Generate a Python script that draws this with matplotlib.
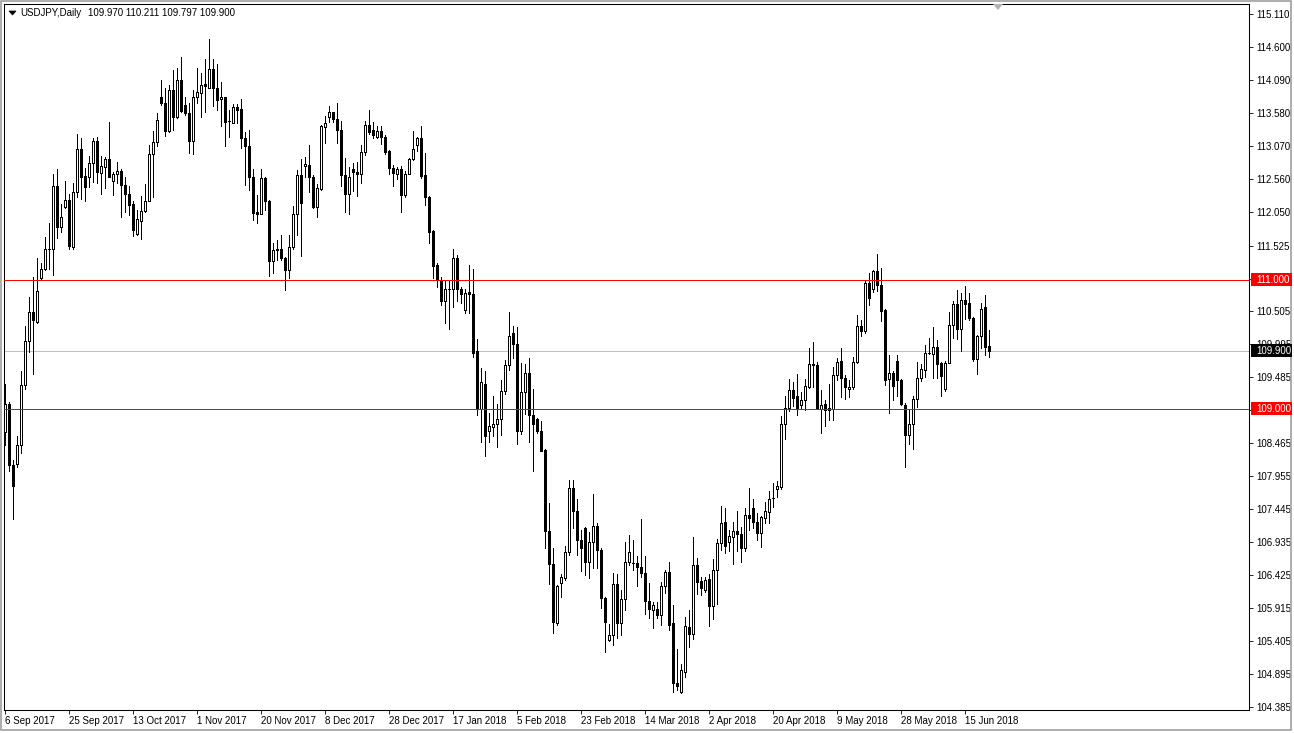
import matplotlib
matplotlib.use("Agg")
import matplotlib.pyplot as plt
from matplotlib.patches import Rectangle, Polygon

plt.rcParams['font.family'] = ['Liberation Sans', 'DejaVu Sans']

symbol = "USDJPY,Daily"
last_quote = "109.970 110.211 109.797 109.900"

# daily bars (oldest first)
opens = [
    108.64, 109.07, 108.13, 108.15, 108.44, 109.37, 110.05, 110.49, 110.35, 111.03,
    111.16, 111.48, 111.47, 112.45, 111.81, 112.13, 112.23, 111.51, 112.35, 113.02,
    112.60, 112.59, 112.80, 113.14, 112.65, 112.74, 112.87, 112.53, 112.64, 112.68,
    112.46, 112.32, 112.17, 111.71, 111.91, 112.06, 112.22, 112.94, 113.13, 113.82,
    113.74, 113.30, 113.93, 113.51, 114.09, 113.70, 113.57, 113.15, 113.82, 113.88,
    114.03, 113.97, 114.26, 113.97, 113.79, 113.82, 113.46, 113.43, 113.67, 113.64,
    113.19, 113.06, 112.59, 112.04, 112.02, 112.57, 112.22, 111.28, 111.47, 111.47,
    111.34, 111.14, 111.50, 112.01, 112.62, 112.75, 112.78, 112.58, 112.13, 112.40,
    113.36, 113.51, 113.59, 113.48, 113.32, 112.62, 112.33, 112.71, 112.66, 112.63,
    112.97, 113.39, 113.31, 113.21, 113.30, 113.20, 112.99, 112.73, 112.63, 112.71,
    112.31, 112.64, 112.87, 113.09, 113.19, 112.62, 112.28, 111.75, 111.22, 111.00,
    110.67, 110.85, 110.85, 111.34, 110.85, 110.53, 110.80, 110.78, 109.89, 108.99,
    109.39, 108.66, 108.72, 108.76, 108.84, 109.28, 109.68, 110.17, 110.00, 108.65,
    109.26, 109.56, 108.91, 108.84, 108.66, 108.36, 107.11, 106.60, 105.69, 106.30,
    106.38, 106.78, 107.78, 107.42, 106.97, 107.16, 106.62, 106.93, 107.19, 106.81,
    106.07, 105.42, 105.49, 106.28, 105.69, 106.05, 106.62, 106.62, 106.61, 106.55,
    106.46, 106.02, 105.88, 105.90, 105.81, 106.25, 106.47, 105.68, 104.75, 104.62,
    104.93, 105.62, 105.52, 106.58, 106.33, 106.20, 106.36, 105.94, 106.50, 106.92,
    107.24, 106.93, 107.02, 107.10, 107.06, 106.85, 107.35, 107.47, 107.24, 107.07,
    107.31, 107.40, 107.61, 107.75, 107.79, 108.76, 109.01, 109.29, 109.19, 109.05,
    109.13, 109.34, 109.69, 109.68, 109.00, 109.07, 108.98, 108.99, 109.52, 109.74,
    109.47, 109.31, 109.33, 109.73, 110.28, 110.21, 110.95, 110.85, 111.13, 110.92,
    110.53, 109.46, 109.56, 109.74, 109.45, 109.06, 108.60, 108.76, 109.15, 109.48,
    109.60, 109.86, 109.84, 109.95, 109.71, 109.30, 109.71, 110.30, 110.62, 110.23,
    110.69, 110.64, 110.40, 109.77, 110.12, 110.57, 109.970]

highs = [
    109.39, 109.11, 108.21, 108.57, 109.59, 110.28, 110.73, 111.04, 111.33, 111.26,
    111.66, 111.88, 112.64, 112.71, 112.17, 112.53, 112.33, 112.49, 113.25, 113.19,
    112.72, 112.91, 113.19, 113.20, 112.91, 112.89, 113.44, 112.67, 112.82, 112.71,
    112.59, 112.45, 112.22, 112.08, 112.29, 112.48, 113.08, 113.30, 113.57, 114.09,
    113.96, 114.01, 114.24, 114.27, 114.45, 113.83, 113.73, 113.93, 114.28, 114.20,
    114.42, 114.72, 114.42, 114.34, 114.05, 113.83, 113.62, 113.72, 113.72, 113.80,
    113.28, 113.32, 112.71, 112.31, 112.71, 112.59, 112.23, 111.56, 111.61, 111.69,
    111.35, 111.69, 112.14, 112.70, 112.86, 112.90, 113.08, 112.62, 112.48, 113.39,
    113.53, 113.69, 113.60, 113.74, 113.45, 112.88, 112.74, 112.81, 112.82, 113.08,
    113.45, 113.62, 113.44, 113.37, 113.37, 113.24, 113.00, 112.77, 112.74, 112.75,
    112.68, 112.88, 113.30, 113.21, 113.38, 112.96, 112.29, 111.76, 111.25, 111.04,
    111.00, 111.00, 111.47, 111.38, 110.89, 110.86, 111.22, 111.17, 110.08, 109.63,
    109.58, 108.93, 109.20, 109.08, 109.45, 109.75, 110.49, 110.28, 110.26, 109.70,
    109.69, 109.79, 109.31, 108.86, 108.81, 108.37, 107.54, 106.85, 106.27, 106.44,
    106.87, 107.90, 107.90, 107.60, 107.13, 107.17, 107.09, 107.68, 107.23, 106.84,
    106.08, 105.66, 106.45, 106.44, 106.19, 106.93, 107.05, 106.97, 106.72, 107.29,
    106.72, 106.30, 106.01, 106.01, 106.32, 106.50, 106.63, 105.96, 105.28, 105.05,
    105.78, 105.89, 107.01, 106.69, 106.39, 106.39, 106.44, 106.67, 106.98, 107.49,
    107.47, 107.13, 107.25, 107.41, 107.17, 107.47, 107.77, 107.60, 107.39, 107.34,
    107.55, 107.73, 107.85, 107.88, 108.88, 109.20, 109.46, 109.42, 109.54, 109.26,
    109.46, 109.94, 110.04, 109.73, 109.29, 109.14, 109.39, 109.64, 109.78, 109.94,
    109.52, 109.45, 109.80, 110.45, 110.38, 111.00, 111.10, 111.15, 111.40, 111.18,
    110.55, 109.83, 109.59, 109.83, 109.46, 109.09, 108.98, 109.19, 109.72, 109.69,
    109.99, 110.09, 110.26, 110.07, 109.73, 109.74, 110.50, 110.67, 110.84, 110.79,
    110.90, 110.79, 110.42, 110.14, 110.64, 110.76, 110.211]

lows = [
    108.44, 108.03, 107.30, 108.09, 108.32, 109.30, 109.88, 109.53, 110.33, 110.99,
    111.14, 111.17, 111.07, 111.65, 111.73, 112.10, 111.47, 111.48, 112.28, 112.25,
    112.21, 112.43, 112.51, 112.50, 112.32, 112.41, 112.58, 112.31, 112.49, 111.97,
    112.05, 112.00, 111.68, 111.69, 111.63, 112.05, 112.21, 112.28, 113.06, 113.70,
    113.22, 113.29, 113.32, 113.50, 113.60, 113.54, 112.96, 112.95, 113.73, 113.52,
    113.60, 113.96, 113.68, 113.62, 113.38, 113.07, 113.21, 113.42, 113.42, 113.03,
    112.46, 112.39, 111.92, 111.87, 112.01, 112.08, 111.05, 111.10, 111.30, 111.30,
    110.83, 111.02, 111.48, 111.69, 111.37, 112.59, 112.36, 112.10, 111.97, 112.38,
    113.12, 113.44, 113.44, 113.12, 112.44, 112.05, 112.02, 112.37, 112.30, 112.50,
    112.93, 113.25, 113.19, 113.19, 113.10, 112.94, 112.64, 112.45, 112.55, 112.05,
    112.28, 112.63, 112.85, 112.99, 112.57, 112.15, 111.56, 111.03, 110.89, 110.61,
    110.32, 110.23, 110.58, 110.66, 110.63, 110.48, 110.48, 109.80, 108.90, 108.49,
    108.27, 108.49, 108.57, 108.40, 108.59, 109.23, 109.60, 109.78, 108.45, 108.61,
    108.92, 108.49, 108.03, 108.62, 108.34, 106.84, 106.28, 105.53, 105.65, 106.08,
    106.35, 106.74, 107.15, 106.74, 106.49, 106.43, 106.38, 106.53, 106.53, 105.91,
    105.24, 105.41, 105.34, 105.45, 105.50, 105.88, 106.58, 106.50, 106.25, 106.40,
    105.82, 105.76, 105.60, 105.76, 105.65, 106.14, 105.58, 104.62, 104.65, 104.60,
    104.84, 105.31, 105.43, 106.13, 106.11, 106.17, 105.64, 105.74, 105.98, 106.81,
    106.76, 106.79, 106.60, 106.79, 106.63, 106.80, 107.13, 107.16, 106.96, 106.86,
    107.23, 107.23, 107.48, 107.64, 107.75, 108.53, 108.96, 109.04, 108.90, 109.01,
    108.98, 109.32, 109.34, 108.99, 108.63, 108.73, 108.83, 108.82, 109.45, 109.18,
    109.15, 109.18, 109.31, 109.71, 110.12, 110.17, 110.61, 110.81, 110.82, 110.36,
    109.37, 108.94, 109.14, 109.20, 109.06, 108.10, 108.46, 108.37, 109.02, 109.43,
    109.49, 109.84, 109.48, 109.47, 109.19, 109.28, 109.71, 110.09, 110.08, 109.90,
    110.39, 110.38, 109.74, 109.54, 109.94, 109.83, 109.797]

closes = [
    109.07, 108.13, 107.81, 108.44, 109.37, 110.05, 110.49, 110.37, 110.82, 111.16,
    111.48, 111.47, 112.45, 111.81, 111.96, 112.23, 111.52, 112.35, 113.02, 112.59,
    112.43, 112.80, 113.14, 112.67, 112.76, 112.87, 112.59, 112.64, 112.68, 112.46,
    112.33, 112.16, 111.76, 111.93, 112.06, 112.22, 112.94, 113.13, 113.47, 113.74,
    113.30, 113.93, 113.51, 114.09, 113.61, 113.57, 113.15, 113.82, 113.91, 114.01,
    114.00, 114.26, 113.97, 113.78, 113.82, 113.44, 113.45, 113.67, 113.63, 113.19,
    113.06, 112.59, 112.03, 112.02, 112.57, 112.21, 111.28, 111.46, 111.45, 111.34,
    111.14, 111.50, 112.01, 112.62, 112.18, 112.79, 112.58, 112.13, 112.41, 113.37,
    113.43, 113.59, 113.48, 113.31, 112.62, 112.33, 112.58, 112.67, 112.63, 112.97,
    113.39, 113.28, 113.24, 113.30, 113.20, 112.98, 112.73, 112.65, 112.71, 112.31,
    112.64, 112.87, 113.02, 113.19, 112.60, 112.28, 111.74, 111.21, 111.00, 110.67,
    110.85, 110.86, 111.34, 110.85, 110.77, 110.79, 110.77, 109.87, 108.99, 109.41,
    108.57, 108.73, 108.76, 108.84, 109.28, 109.68, 110.13, 110.00, 108.65, 109.26,
    109.55, 108.91, 108.76, 108.65, 108.35, 107.10, 106.59, 105.70, 106.25, 106.39,
    106.78, 107.78, 107.41, 106.97, 106.84, 106.62, 106.93, 107.19, 106.81, 106.07,
    105.70, 105.49, 106.28, 105.68, 106.05, 106.62, 106.78, 106.61, 106.55, 106.45,
    106.02, 105.90, 105.96, 105.81, 106.25, 106.47, 105.65, 104.75, 104.70, 104.96,
    105.64, 105.52, 106.58, 106.31, 106.23, 106.35, 105.94, 106.50, 106.92, 107.23,
    106.88, 107.03, 107.10, 107.06, 106.85, 107.35, 107.31, 107.24, 107.07, 107.32,
    107.42, 107.61, 107.62, 107.80, 108.76, 109.01, 109.29, 109.16, 109.01, 109.14,
    109.35, 109.69, 109.67, 109.00, 109.06, 108.98, 109.01, 109.52, 109.72, 109.47,
    109.34, 109.34, 109.72, 110.28, 110.21, 110.95, 110.71, 111.13, 110.91, 110.52,
    109.45, 109.56, 109.35, 109.45, 109.07, 108.60, 108.76, 109.15, 109.48, 109.62,
    109.87, 109.87, 109.95, 109.69, 109.51, 109.71, 110.30, 110.62, 110.23, 110.69,
    110.62, 110.40, 109.77, 110.12, 110.55, 109.96, 109.900]

date_labels = ["6 Sep 2017", "25 Sep 2017", "13 Oct 2017", "1 Nov 2017",
               "20 Nov 2017", "8 Dec 2017", "28 Dec 2017", "17 Jan 2018",
               "5 Feb 2018", "23 Feb 2018", "14 Mar 2018", "2 Apr 2018",
               "20 Apr 2018", "9 May 2018", "28 May 2018", "15 Jun 2018"]
bars_per_label = 16

price_ticks = [115.110, 114.600, 114.090, 113.580, 113.070, 112.560, 112.050,
               111.525, 111.015, 110.505, 109.995, 109.485, 108.975, 108.465,
               107.955, 107.445, 106.935, 106.425, 105.915, 105.405, 104.895,
               104.385]
hidden_ticks = [111.015, 108.975]   # sit under the level boxes
levels = [111.000, 109.000]
bid = 109.900

W, H = 1294, 733
fig = plt.figure(figsize=(W / 100, H / 100), dpi=100)
ax_box = [4 / W, 1 - 710 / H, 1245 / W, 706 / H]
ax = fig.add_axes(ax_box)
ymin, ymax = 104.336, 115.265
ax.set_xlim(-0.25, 311)
ax.set_ylim(ymin, ymax)

LW = 0.6  # about one pixel

# candles
n = len(closes)
xs = list(range(n))
ax.vlines(xs, lows, highs, color='black', lw=LW, zorder=3, antialiased=False)
for i in xs:
    o, c = opens[i], closes[i]
    lo, hi = min(o, c), max(o, c)
    if hi - lo < 0.012:
        ax.hlines((o + c) / 2, i - 0.3, i + 0.3, color='black', lw=LW,
                  zorder=4, antialiased=False)
    else:
        ax.add_patch(Rectangle((i - 0.25, lo), 0.5, hi - lo,
                               fc='white' if c >= o else 'black', ec='black',
                               lw=LW, zorder=4, antialiased=False))

# horizontal levels and bid line
ax.axhline(bid, color='#c0c0c0', lw=LW, zorder=2, antialiased=False)
for lv in levels:
    ax.axhline(lv, color='#ff0000', lw=LW, zorder=5, antialiased=False)

# axes styling
for sp in ax.spines.values():
    sp.set_color('black')
    sp.set_linewidth(0.75)
ax.yaxis.tick_right()
ax.set_yticks(price_ticks)
ax.set_yticklabels(['' if v in hidden_ticks else f'{v:.3f}' for v in price_ticks])
ax.tick_params(axis='y', length=3, width=0.6, pad=2, labelsize=7, colors='black')
ax.set_xticks(list(range(0, n, bars_per_label)))
ax.set_xticklabels(date_labels)
ax.tick_params(axis='x', length=3, width=0.6, pad=1.5, labelsize=7, colors='black')
plt.setp(ax.get_xticklabels(), ha='left')


def yfrac(p):
    return ax_box[1] + (p - ymin) / (ymax - ymin) * ax_box[3]


# price boxes on the right scale
for lv, bg in [(levels[0], '#ff0000'), (levels[1], '#ff0000'), (bid, 'black')]:
    yc = yfrac(lv)
    fig.patches.append(Rectangle((1251 / W, yc - 6.5 / H), 41 / W, 13 / H,
                                 transform=fig.transFigure, fc=bg, ec='none',
                                 zorder=5))
    fig.text(1256 / W, yc, f'{lv:.3f}', color='white', va='center', ha='left',
             fontsize=7, zorder=6)

# header
fig.patches.append(Polygon([(9 / W, 1 - 11 / H), (16 / W, 1 - 11 / H),
                            (12.5 / W, 1 - 15 / H)], closed=True,
                           transform=fig.transFigure, fc='black', ec='black',
                           lw=0.5, zorder=5))
fig.text(20 / W, 1 - 13 / H, symbol, va='center', ha='left', fontsize=7, zorder=6)
fig.text(88 / W, 1 - 13 / H, last_quote, va='center', ha='left', fontsize=7, zorder=6)

# chart shift marker
fig.patches.append(Polygon([(993 / W, 1 - 4 / H), (1003 / W, 1 - 4 / H),
                            (998 / W, 1 - 10 / H)], closed=True,
                           transform=fig.transFigure, fc='#b4b4b4', ec='none',
                           zorder=5))

# outer window frame
fig.patches.append(Rectangle((1 / W, 3 / H), 1290 / W, 729 / H,
                             transform=fig.transFigure, fill=False,
                             ec='#a0a0a0', lw=1.2, zorder=1))

fig.savefig('out.png', dpi=100)
